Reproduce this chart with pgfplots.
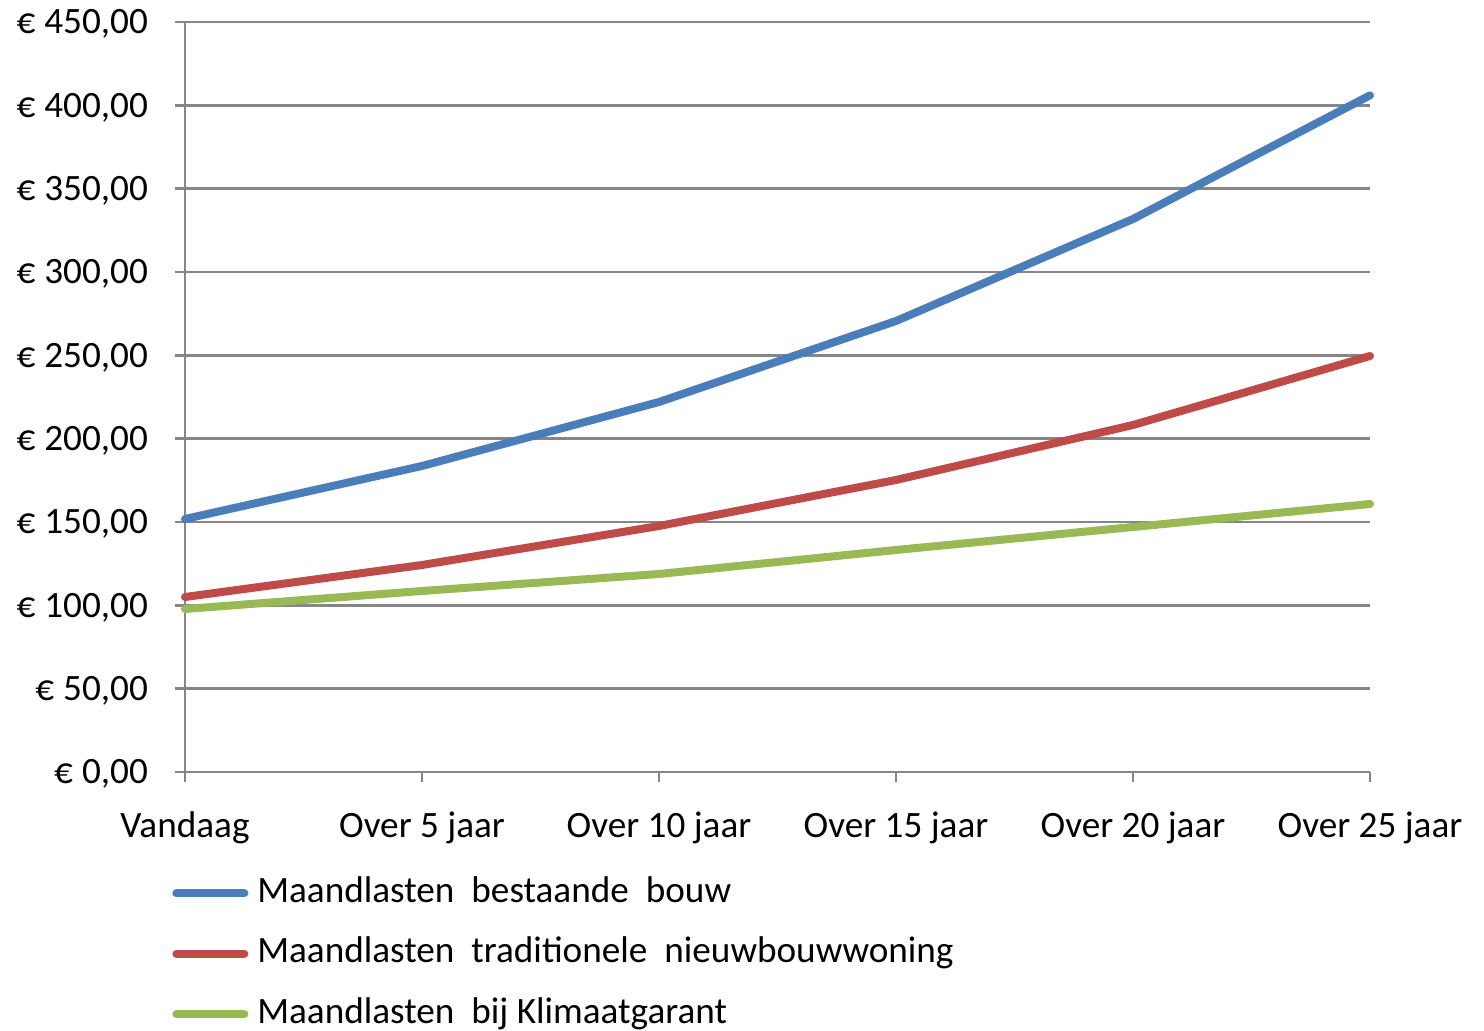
\documentclass[border=0pt]{standalone}
\usepackage{pgfplots}
\pgfplotsset{compat=1.18}
\usepackage{fontspec}
\setmainfont{Carlito}
\definecolor{cblue}{HTML}{4A7EBB}
\definecolor{cred}{HTML}{BE4B48}
\definecolor{cgreen}{HTML}{98B954}
\definecolor{cgrid}{HTML}{868686}
\newcommand\ws{\hspace{8.5pt}}
\newcommand\eu{€\hspace{4.5pt}}
\begin{document}
\begin{tikzpicture}
\begin{axis}[
  scale only axis,
  width=592.5pt, height=375pt,
  xmin=0, xmax=5, ymin=0, ymax=450,
  axis x line=bottom, axis y line=left,
  axis line style={-, cgrid, line width=1.2pt},
  xtick={0,1,2,3,4,5},
  xticklabels={Vandaag, Over 5 jaar, Over 10 jaar, Over 15 jaar, Over 20 jaar, Over 25 jaar},
  ytick={0,50,...,450},
  yticklabels={{\eu 0,00},{\eu 50,00},{\eu 100,00},{\eu 150,00},{\eu 200,00},{\eu 250,00},{\eu 300,00},{\eu 350,00},{\eu 400,00},{\eu 450,00}},
  tick align=outside,
  major tick length=5pt,
  tick style={cgrid, line width=1.2pt},
  ymajorgrids,
  grid style={cgrid, line width=1.2pt},
  tick label style={font=\fontsize{18.6}{22}\selectfont, text=black},
  xticklabel style={yshift=-11.5pt},
  yticklabel style={xshift=-10pt, yshift=-1pt},
  legend style={draw=none, fill=none, at={(axis description cs:-0.011,-0.1387)}, anchor=north west,
     inner sep=0pt, row sep=13.2pt, font=\fontsize{18.6}{22}\selectfont,
     nodes={inner sep=0pt, text height=13pt, text depth=4pt}, column sep=4.5pt},
  legend cell align=left,
  legend image code/.code={\draw[#1, line cap=round] (2pt,0pt) -- (36pt,0pt);},
  clip=false,
]
\addplot[cblue, line width=4pt, line cap=round, line join=round] coordinates {(0,151.8) (1,183.6) (2,222.0) (3,270.6) (4,331.8) (5,406.0)};
\addlegendentry{Maandlasten\ws bestaande\ws bouw}
\addplot[cred, line width=4pt, line cap=round, line join=round] coordinates {(0,105.0) (1,124.2) (2,147.6) (3,175.2) (4,208.2) (5,249.6)};
\addlegendentry{Maandlasten\ws traditionele\ws nieuwbouwwoning}
\addplot[cgreen, line width=4pt, line cap=round, line join=round] coordinates {(0,97.8) (1,108.6) (2,118.8) (3,133.2) (4,147.0) (5,160.8)};
\addlegendentry{Maandlasten\ws bij Klimaatgarant}
\end{axis}
\pgfresetboundingbox
\path (-92.5pt,-129.5pt) rectangle (649.5pt,386pt);
\end{tikzpicture}
\end{document}
